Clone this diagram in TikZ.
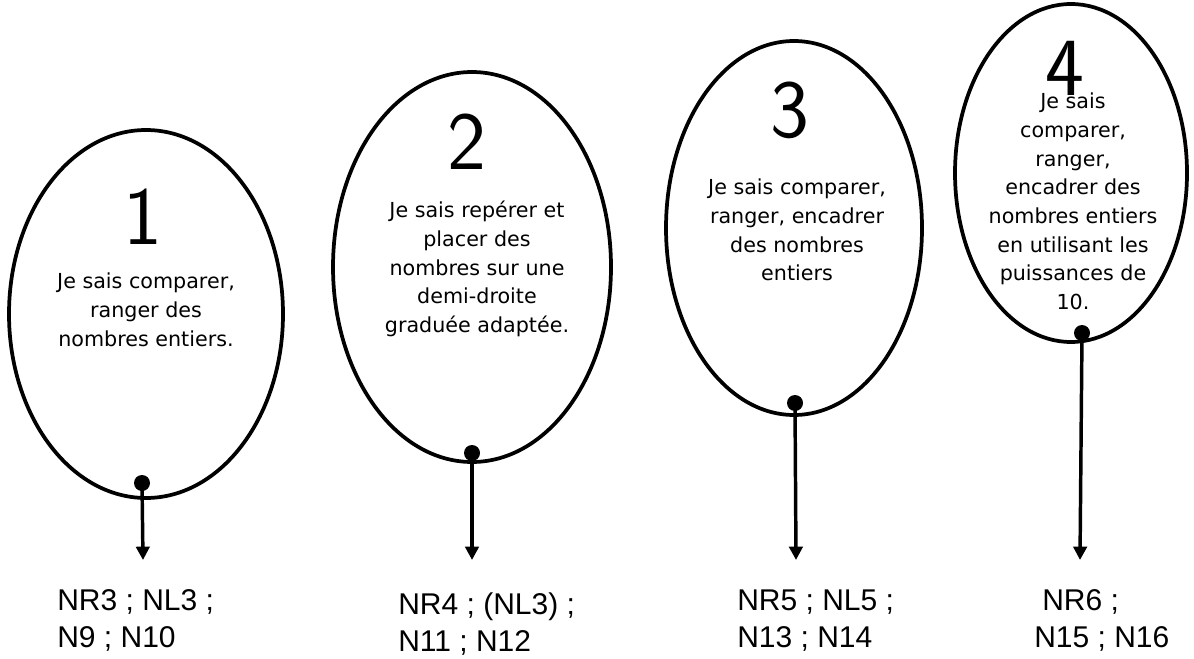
\documentclass[tikz,border=0pt]{standalone}
\usepackage{fontspec}
\newfontfamily\bodyfont{DejaVu Sans}
\newfontfamily\labelfont{Liberation Sans}
\usetikzlibrary{arrows.meta}

\begin{document}
\begin{tikzpicture}[x=0.75pt,y=0.75pt,yscale=-1,xscale=1,
  oval/.style={line width=2.8pt},
  dot/.style={circle,fill=black,inner sep=0pt,minimum size=12pt},
  arr/.style={line width=2.6pt,-{Triangle[length=10pt,width=10pt]}},
  digit/.style={inner sep=0pt,font=\sffamily\fontsize{62}{62}\selectfont},
  goal/.style={inner sep=0pt,align=center,anchor=north,font=\bodyfont\fontsize{15.5}{21.5}\selectfont},
  code/.style={inner sep=0pt,align=left,anchor=north west,font=\labelfont\fontsize{22.5}{27.75}\selectfont}]
\useasboundingbox (0,0) rectangle (1194,659);

%Shape: Ellipse
\draw [oval] (146,314) ellipse [x radius=137, y radius=184];
%Shape: Ellipse
\draw [oval] (472,267) ellipse [x radius=139, y radius=195];
%Shape: Ellipse
\draw [oval] (794,228) ellipse [x radius=128, y radius=187];
%Shape: Ellipse
\draw [oval] (1071,173) ellipse [x radius=116, y radius=169];

% Text Node
\node [digit] (n1) at (143,217) {1};
\node [digit] (n2) at (467,142) {2};
\node [digit] (n3) at (790,110) {3};
\node [digit] (n4) at (1065,68) {4};

% Text Node
\node [goal] (g1) at (146,273) {Je sais comparer,\\ranger des\\nombres entiers.};
\node [goal] (g2) at (477,201) {Je sais repérer et\\placer des\\nombres sur une\\demi-droite\\graduée adaptée.};
\node [goal] (g3) at (797,179) {Je sais comparer,\\ranger, encadrer\\des nombres\\entiers};
\node [goal] (g4) at (1073,93) {Je sais\\comparer,\\ranger,\\encadrer des\\nombres entiers\\en utilisant les\\puissances de\\10.};

%Shape: Circle
\node [dot] (d1) at (142,483) {};
\node [dot] (d2) at (472,453) {};
\node [dot] (d3) at (795,403) {};
\node [dot] (d4) at (1082,333) {};

\coordinate (t1) at (143,560);
\coordinate (t2) at (472,560);
\coordinate (t3) at (796,560);
\coordinate (t4) at (1080,560);

%Straight Lines
\draw [arr] (d1.center) -- (t1);
\draw [arr] (d2.center) -- (t2);
\draw [arr] (d3.center) -- (t3);
\draw [arr] (d4.center) -- (t4);

% Text Node
\node [code] (c1) at (57,589) {NR3 ; NL3 ;\\N9 ; N10};
\node [code] (c2) at (398,592) {NR4 ; (NL3) ;\\N11 ; N12};
\node [code] (c3) at (737,590) {NR5 ; NL5 ;\\N13 ; N14};
\node [code] (c4) at (1034,589) {\hspace*{6pt}NR6 ;\\N15 ; N16};

\end{tikzpicture}
\end{document}
